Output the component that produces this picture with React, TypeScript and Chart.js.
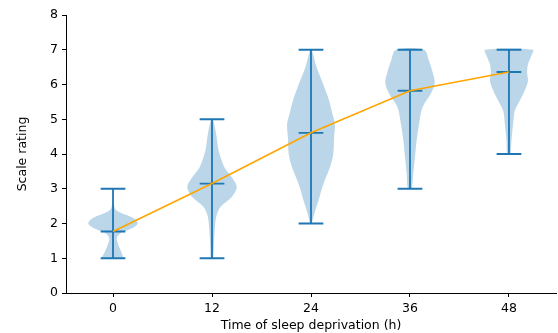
import React, { useEffect, useRef } from "react";
import { Chart, registerables } from "chart.js";

Chart.register(...registerables);

const positions = [0, 12, 24, 36, 48];
const tickLabels = ["0", "12", "24", "36", "48"];
const means = [1.77, 3.15, 4.61, 5.82, 6.36];
const mins = [1, 1, 2, 3, 4];
const maxs = [3, 5, 7, 7, 7];

// violin density profiles: rating levels and half-widths (x units)
const levels0 = [1.0, 1.18, 1.38, 1.58, 1.72, 1.86, 2.0, 2.15, 2.38, 2.62, 2.8, 3.0];
const widths0 = [1.3, 1.0, 0.65, 0.45, 0.9, 2.3, 3.0, 2.5, 0.4, 0.05, 0.02, 0.0];
const levels1 = [1.0, 1.23, 1.72, 2.19, 2.47, 2.76, 3.05, 3.33, 3.62, 4.1, 4.58, 5.0];
const widths1 = [0.15, 0.2, 0.3, 0.5, 1.0, 2.4, 3.0, 2.4, 1.5, 0.8, 0.5, 0.1];
const levels2 = [2.0, 2.28, 2.66, 3.14, 3.62, 4.0, 4.48, 4.86, 5.15, 5.53, 6.0, 6.48, 7.0];
const widths2 = [0.1, 0.4, 0.9, 1.5, 2.3, 2.7, 2.8, 2.9, 2.6, 2.2, 1.5, 0.7, 0.1];
const levels3 = [3.0, 3.43, 3.9, 4.38, 4.86, 5.34, 5.77, 6.06, 6.3, 6.68, 7.0];
const widths3 = [0.25, 0.4, 0.6, 0.8, 1.1, 1.5, 2.6, 3.0, 2.8, 2.3, 1.7];
const levels4 = [4.0, 4.38, 4.86, 5.24, 5.53, 5.82, 6.1, 6.34, 6.58, 6.82, 7.0];
const widths4 = [0.2, 0.3, 0.5, 0.7, 1.3, 1.9, 2.3, 2.2, 2.3, 2.7, 2.9];

const allLevels = [levels0, levels1, levels2, levels3, levels4];
const allWidths = [widths0, widths1, widths2, widths3, widths4];

const BLUE = "#1f77b4";
const FONT = "'DejaVu Sans', sans-serif";
const FS = 12.5;

export default function App() {
  const ref = useRef<HTMLCanvasElement | null>(null);
  useEffect(() => {
    document.body.style.margin = "0";
    const datasets: any[] = [];
    positions.forEach((p, i) => {
      const lv = allLevels[i];
      const wd = allWidths[i];
      const pts: any[] = [];
      for (let k = 0; k < lv.length; k++) pts.push({ x: p + wd[k], y: lv[k] });
      for (let k = lv.length - 1; k >= 0; k--) pts.push({ x: p - wd[k], y: lv[k] });
      pts.push({ x: p + wd[0], y: lv[0] });
      datasets.push({
        type: "scatter",
        data: pts,
        showLine: true,
        fill: "shape",
        backgroundColor: "rgba(31,119,180,0.3)",
        borderColor: "rgba(0,0,0,0)",
        borderWidth: 0,
        pointRadius: 0,
        tension: 0.3,
        order: 3,
      });
    });
    const cap = 1.5;
    positions.forEach((p, i) => {
      datasets.push({
        type: "scatter",
        data: [
          { x: p - cap, y: mins[i] },
          { x: p + cap, y: mins[i] },
          { x: p, y: null },
          { x: p, y: mins[i] },
          { x: p, y: maxs[i] },
          { x: p, y: null },
          { x: p - cap, y: maxs[i] },
          { x: p + cap, y: maxs[i] },
          { x: p, y: null },
          { x: p - cap, y: means[i] },
          { x: p + cap, y: means[i] },
        ],
        showLine: true,
        spanGaps: false,
        borderColor: BLUE,
        borderWidth: 1.8,
        pointRadius: 0,
        fill: false,
        order: 2,
      });
    });
    datasets.push({
      type: "scatter",
      data: positions.map((p, i) => ({ x: p, y: means[i] })),
      showLine: true,
      borderColor: "#ffa500",
      borderWidth: 1.6,
      pointRadius: 0,
      fill: false,
      order: 1,
    });

    const chart = new Chart(ref.current!, {
      type: "scatter",
      data: { datasets },
      options: {
        animation: false,
        responsive: false,
        layout: { padding: { top: 15, right: 2, left: 0, bottom: 0 } },
        plugins: { legend: { display: false }, tooltip: { enabled: false } },
        scales: {
          x: {
            type: "linear",
            min: -5.7,
            max: 53.7,
            afterBuildTicks: (s: any) => {
              s.ticks = positions.map((v) => ({ value: v }));
            },
            afterFit: (s: any) => {
              s.height = 40;
            },
            ticks: {
              callback: (v: any) => {
                const idx = positions.indexOf(Number(v));
                return idx >= 0 ? tickLabels[idx] : "";
              },
              color: "#000",
              font: { family: FONT, size: FS },
              padding: 4,
              maxRotation: 0,
              autoSkip: false,
            },
            grid: { drawOnChartArea: false, drawTicks: true, tickLength: 4, tickColor: "#000" },
            border: { display: true, color: "#000", width: 1 },
            title: {
              display: true,
              text: "Time of sleep deprivation (h)",
              color: "#000",
              font: { family: FONT, size: FS },
              padding: { top: 0, bottom: 0 },
            },
          },
          y: {
            type: "linear",
            min: 0,
            max: 8,
            afterFit: (s: any) => {
              s.width = 66;
            },
            ticks: {
              stepSize: 1,
              color: "#000",
              font: { family: FONT, size: FS },
              padding: 4,
            },
            grid: { drawOnChartArea: false, drawTicks: true, tickLength: 4, tickColor: "#000" },
            border: { display: true, color: "#000", width: 1 },
            title: {
              display: true,
              text: "Scale rating",
              color: "#000",
              font: { family: FONT, size: FS },
              padding: { top: 15, bottom: 0 },
            },
          },
        },
      },
    } as any);
    return () => chart.destroy();
  }, []);
  return (
    <div style={{ width: 558, height: 333 }}>
      <canvas ref={ref} width={558} height={333} style={{ display: "block" }} />
    </div>
  );
}
